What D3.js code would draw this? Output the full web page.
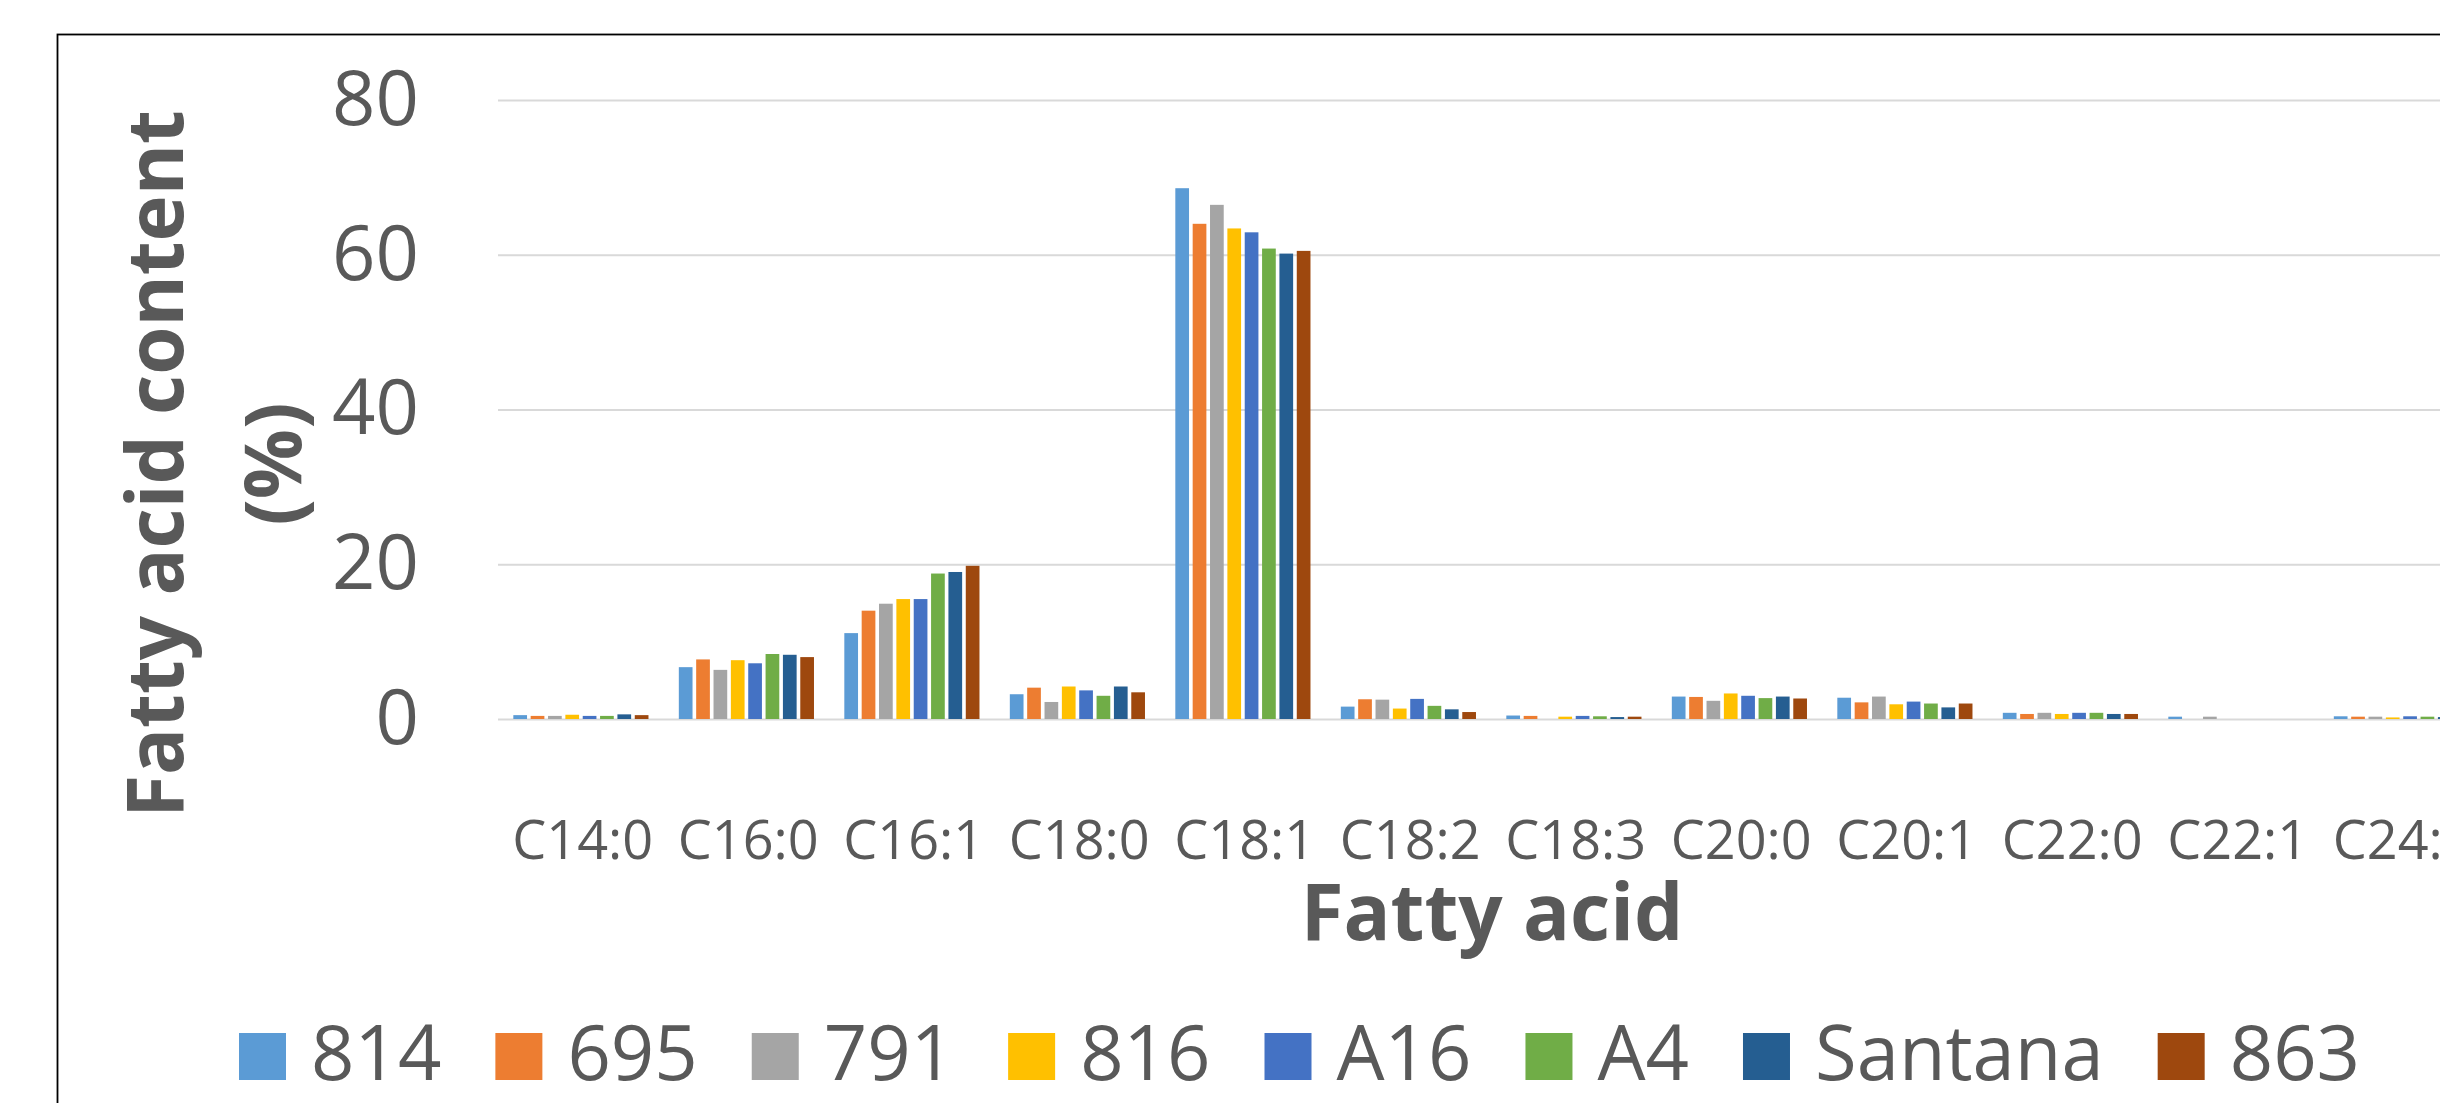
<!DOCTYPE html>
<html>
<head>
<meta charset="utf-8">
<script src="https://cdn.jsdelivr.net/npm/d3@7"></script>
<style>
  html, body { margin: 0; padding: 0; background: #fff; overflow: hidden; }
  svg { display: block; }
  text { font-family: "Open Sans", "Liberation Sans", sans-serif; fill: #595959; }
</style>
</head>
<body>
<svg id="chart" width="2440" height="1103"></svg>
<script>
// Fatty acid composition by line (%)
const categories = ["C14:0", "C16:0", "C16:1", "C18:0", "C18:1", "C18:2", "C18:3", "C20:0", "C20:1", "C22:0", "C22:1", "C24:0"];
const seriesNames = ["814", "695", "791", "816", "A16", "A4", "Santana", "863"];
const seriesColors = ["#5B9BD5", "#ED7D31", "#A5A5A5", "#FFC000", "#4472C4", "#70AD47", "#255E91", "#9E480E"];

const v814     = [0.5, 6.7, 11.1, 3.2, 68.6, 1.6, 0.45, 2.9, 2.75, 0.8, 0.3, 0.35];
const v695     = [0.4, 7.7, 14.0, 4.05, 64.0, 2.55, 0.4, 2.85, 2.15, 0.65, 0, 0.3];
const v791     = [0.4, 6.35, 14.9, 2.2, 66.45, 2.5, 0, 2.35, 2.9, 0.8, 0.3, 0.3];
const v816     = [0.55, 7.6, 15.5, 4.2, 63.4, 1.35, 0.3, 3.3, 1.9, 0.65, 0, 0.2];
const vA16     = [0.4, 7.2, 15.5, 3.7, 62.9, 2.6, 0.4, 3.0, 2.25, 0.8, 0, 0.35];
const vA4      = [0.4, 8.4, 18.8, 3.0, 60.8, 1.7, 0.35, 2.7, 2.0, 0.8, 0, 0.3];
const vSantana = [0.6, 8.3, 19.0, 4.2, 60.15, 1.25, 0.25, 2.9, 1.5, 0.65, 0, 0.25];
const v863     = [0.5, 8.0, 19.8, 3.45, 60.5, 0.9, 0.3, 2.65, 2.0, 0.65, 0, 0.3];

const yTicks = [0, 20, 40, 60, 80];
const yTitleLines = ["Fatty acid content", "(%)"];
const xTitle = "Fatty acid";

const seriesValues = [v814, v695, v791, v816, vA16, vA4, vSantana, v863];

const svg = d3.select("#chart");

// chart frame
svg.append("rect")
  .attr("x", 57.5).attr("y", 34.5)
  .attr("width", 3000).attr("height", 2000)
  .attr("fill", "#fff").attr("stroke", "#000").attr("stroke-width", 1.8);

const plot = { left: 500, top: 100, bottom: 719, step: 165.5 };
const plotRight = plot.left + plot.step * categories.length;

const x = d3.scaleBand().domain(categories).range([plot.left, plotRight]).padding(0);
const xInner = d3.scaleBand().domain(seriesNames)
  .range([11.5, 150.3]).paddingInner(0.21).paddingOuter(0.105);
const y = d3.scaleLinear().domain([0, 80]).range([plot.bottom, plot.top]);

// gridlines
const grid = svg.append("g").attr("transform", `translate(${plot.left - 2},0)`)
  .call(d3.axisLeft(y).tickValues(yTicks).tickSize(-(plotRight - plot.left + 2)).tickFormat(""));
grid.select(".domain").remove();
grid.selectAll(".tick line").attr("stroke", "#d9d9d9").attr("stroke-width", 2);

// y tick labels
const yAxis = svg.append("g").attr("transform", `translate(${plot.left - 2},0)`)
  .call(d3.axisLeft(y).tickValues(yTicks).tickSize(0).tickPadding(79));
yAxis.select(".domain").remove();
yAxis.selectAll("text").attr("font-size", 76).attr("fill", "#595959")
  .style("font-family", "'Open Sans', sans-serif");

// bars
const groups = svg.append("g").selectAll("g")
  .data(categories)
  .join("g")
  .attr("transform", c => `translate(${x(c)},0)`);

groups.selectAll("rect")
  .data((c, i) => seriesNames.map((s, k) => ({ s, k, v: seriesValues[k][i] })))
  .join("rect")
  .attr("x", d => xInner(d.s))
  .attr("width", xInner.bandwidth())
  .attr("y", d => y(d.v))
  .attr("height", d => y(0) - y(d.v))
  .attr("fill", d => seriesColors[d.k]);

// x axis labels
const xAxis = svg.append("g").attr("transform", `translate(0,${plot.bottom})`)
  .call(d3.axisBottom(x).tickSize(0).tickPadding(102));
xAxis.select(".domain").remove();
xAxis.selectAll("text").attr("font-size", 54).attr("fill", "#595959")
  .style("font-family", "'Open Sans', sans-serif");

// axis titles
svg.append("text")
  .attr("x", 1492).attr("y", 940)
  .attr("text-anchor", "middle")
  .attr("font-size", 78).attr("font-weight", "bold")
  .text(xTitle);

const yTitleX = [183, 301];
yTitleLines.forEach((line, i) => {
  svg.append("text")
    .attr("transform", `translate(${yTitleX[i]},464) rotate(-90)`)
    .attr("text-anchor", "middle")
    .attr("font-size", 78).attr("font-weight", "bold")
    .text(line);
});

// legend
const legend = svg.append("g");
let lx = 239;
seriesNames.forEach((name, k) => {
  legend.append("rect")
    .attr("x", lx).attr("y", 1033)
    .attr("width", 47).attr("height", 47)
    .attr("fill", seriesColors[k]);
  const t = legend.append("text")
    .attr("x", lx + 72).attr("y", 1080)
    .attr("font-size", 76)
    .text(name);
  lx += 72 + t.node().getComputedTextLength() + 54;
});
</script>
</body>
</html>
